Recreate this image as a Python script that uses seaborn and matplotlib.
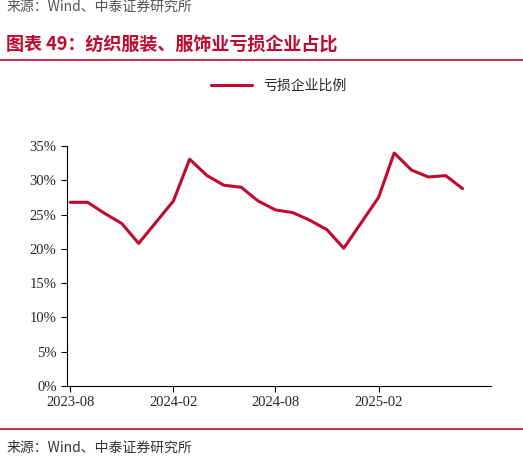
import pandas as pd
import matplotlib.pyplot as plt
import matplotlib.dates as mdates
import seaborn as sns
from matplotlib.ticker import PercentFormatter

months = ['2023-08', '2023-09', '2023-10', '2023-11', '2023-12',
          '2024-02', '2024-03', '2024-04', '2024-05', '2024-06', '2024-07',
          '2024-08', '2024-09', '2024-10', '2024-11', '2024-12',
          '2025-02', '2025-03', '2025-04', '2025-05', '2025-06', '2025-07']
loss_ratio = [26.8, 26.8, 25.2, 23.7, 20.8,
              27.0, 33.1, 30.7, 29.3, 29.0, 27.0,
              25.7, 25.3, 24.2, 22.8, 20.1,
              27.5, 34.0, 31.5, 30.5, 30.7, 28.8]
tick_months = ['2023-08', '2024-02', '2024-08', '2025-02']

df = pd.DataFrame({'month': pd.to_datetime(months), 'ratio': loss_ratio})

sns.set_style('white')
plt.rcParams['font.family'] = ['Noto Sans CJK SC', 'DejaVu Sans']
red = '#C0092E'

fig = plt.figure(figsize=(5.23, 4.70), dpi=100)
ax = fig.add_axes([0.128, 0.179, 0.81, 0.51])
sns.lineplot(data=df, x='month', y='ratio', color=red, linewidth=2.2,
             label='亏损企业比例', ax=ax)

ax.set_ylim(0, 35)
ax.set_yticks(range(0, 36, 5))
ax.yaxis.set_major_formatter(PercentFormatter(decimals=0))
ax.set_xlim(pd.Timestamp('2023-07-26'), pd.Timestamp('2025-08-20'))
ax.set_xticks(pd.to_datetime(tick_months))
ax.xaxis.set_major_formatter(mdates.DateFormatter('%Y-%m'))
ax.set_xlabel('')
ax.set_ylabel('')
for s in ['top', 'right']:
    ax.spines[s].set_visible(False)
for s in ['left', 'bottom']:
    ax.spines[s].set_color('black')
    ax.spines[s].set_linewidth(0.8)
ax.tick_params(direction='out', length=4, color='black', labelsize=10.5,
               bottom=True, left=True)
for lbl in ax.get_xticklabels() + ax.get_yticklabels():
    lbl.set_family(['Times New Roman', 'Liberation Serif', 'DejaVu Serif'])

ax.legend(loc='lower center', bbox_to_anchor=(0.5, 1.17), frameon=False,
          fontsize=10, handlelength=3)

fig.text(0.012, 0.985, '来源：Wind、中泰证券研究所', fontsize=10, color='#555555',
         va='center')
fig.text(0.012, 0.905, '图表 49：纺织服装、服饰业亏损企业占比', fontsize=13,
         color=red, weight='bold', style='italic', va='center')
fig.add_artist(plt.Line2D([0.0, 1.0], [0.872, 0.872], color=red, lw=1.2))
fig.add_artist(plt.Line2D([0.0, 1.0], [0.088, 0.088], color=red, lw=1.2))
fig.text(0.012, 0.048, '来源：Wind、中泰证券研究所', fontsize=10, color='#333333',
         va='center')

fig.savefig('out.png', dpi=100)
